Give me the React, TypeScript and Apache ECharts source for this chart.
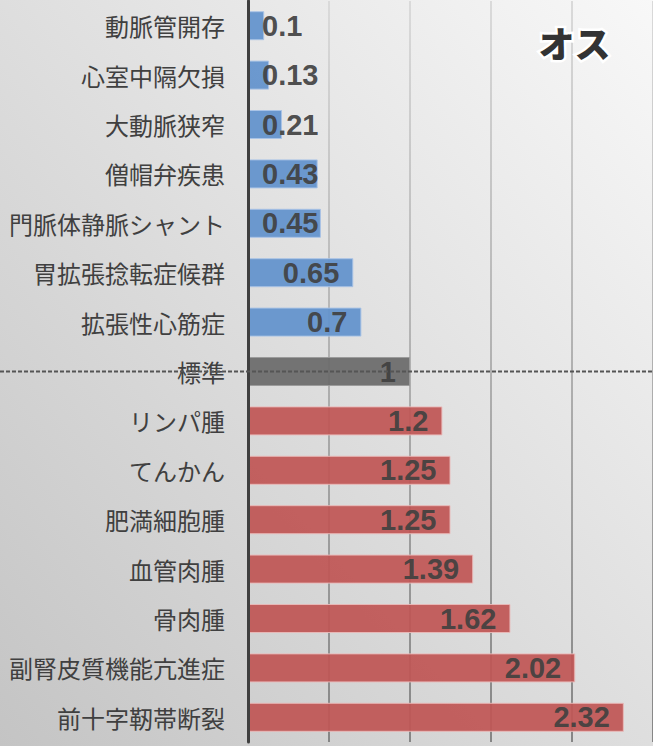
import React, { useEffect, useRef } from "react";
import * as echarts from "echarts";

const categories = [
  "動脈管開存",
  "心室中隔欠損",
  "大動脈狭窄",
  "僧帽弁疾患",
  "門脈体静脈シャント",
  "胃拡張捻転症候群",
  "拡張性心筋症",
  "標準",
  "リンパ腫",
  "てんかん",
  "肥満細胞腫",
  "血管肉腫",
  "骨肉腫",
  "副腎皮質機能亢進症",
  "前十字靭帯断裂",
];
const values = [0.1, 0.13, 0.21, 0.43, 0.45, 0.65, 0.7, 1, 1.2, 1.25, 1.25, 1.39, 1.62, 2.02, 2.32];
const baselineCategory = "標準";
const titleText = "オス";
const xTicks = { min: 0, max: 2.5, interval: 0.5 };

export default function App() {
  const ref = useRef<HTMLDivElement>(null);
  useEffect(() => {
    if (!ref.current) return;
    const chart = echarts.init(ref.current, null, { renderer: "svg" });
    const data = values.map((v) => {
      const fill = v < 1 ? "#6292cc" : v === 1 ? "#6b6b6b" : "#c05655";
      const border = v < 1 ? "#a9c3e6" : v === 1 ? "#9a9a9a" : "#eab9b8";
      const small = v < 0.5;
      return {
        value: v,
        itemStyle: { color: fill, borderColor: border, borderWidth: 1, opacity: 0.93 },
        label: small
          ? { position: "insideLeft", distance: 14 }
          : { position: "insideRight", distance: 14 },
      };
    });
    chart.setOption({
      animation: false,
      backgroundColor: "transparent",
      grid: { left: 248, width: 408, top: 1, bottom: 4, containLabel: false },
      xAxis: {
        type: "value",
        min: xTicks.min,
        max: xTicks.max,
        interval: xTicks.interval,
        axisLabel: { show: false },
        axisLine: { show: false },
        axisTick: { show: false },
        splitLine: {
          show: true,
          lineStyle: {
            width: 2,
            color: new echarts.graphic.LinearGradient(
              0, 0, 0, 746,
              [
                { offset: 0, color: "#dadada" },
                { offset: 1, color: "#858585" },
              ],
              true
            ),
          },
        },
      },
      yAxis: {
        type: "category",
        data: categories,
        inverse: true,
        axisLine: { show: true, lineStyle: { color: "#3f3f3f", width: 3 } },
        axisTick: { show: false },
        axisLabel: {
          margin: 23,
          fontSize: 24,
          color: "#404040",
          fontFamily: "'Noto Sans CJK JP', sans-serif",
        },
        z: 5,
      },
      series: [
        {
          type: "bar",
          data,
          barWidth: 29,
          label: {
            show: true,
            fontSize: 29,
            fontWeight: "bold",
            color: "#404040",
            fontFamily: "'Liberation Sans', Arial, sans-serif",
          },
        },
      ],
    });
    const y = chart.convertToPixel({ yAxisIndex: 0 }, baselineCategory) as number;
    chart.setOption({
      graphic: [
        {
          id: "title",
          type: "text",
          right: 40,
          top: 21,
          z: 100,
          style: {
            text: titleText,
            fontSize: 36,
            fontWeight: 900,
            fontFamily: "'Noto Sans CJK JP', sans-serif",
            fill: "#333333",
            stroke: "#ffffff",
            lineWidth: 5,
            shadowColor: "rgba(0,0,0,0.4)",
            shadowBlur: 3,
            shadowOffsetX: 2,
            shadowOffsetY: 2,
          },
        },
        {
          id: "baseline",
          type: "line",
          z: 120,
          shape: { x1: 0, y1: y, x2: 653, y2: y },
          style: { stroke: "#555555", lineWidth: 2, lineDash: [4, 2] },
        },
      ],
    });
    return () => chart.dispose();
  }, []);
  return (
    <div
      ref={ref}
      style={{
        position: "absolute",
        left: 0,
        top: 0,
        width: 653,
        height: 746,
        background: "linear-gradient(to bottom left, #f8f8f8 0%, #dedede 50%, #c4c4c4 100%)",
      }}
    />
  );
}
